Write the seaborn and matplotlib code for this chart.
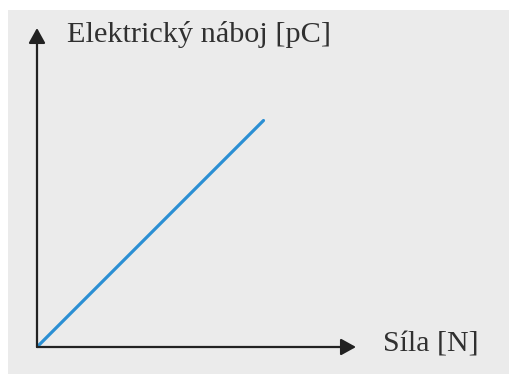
import seaborn as sns
import matplotlib.pyplot as plt
from matplotlib.patches import Rectangle

# Data: linear relation between force and charge (schematic)
sila = [0, 7.1]
naboj = [0, 7.1]

sns.set_theme(style="white")
plt.rcParams['font.family'] = ['Liberation Serif', 'DejaVu Serif']

W, H = 509, 374
fig = plt.figure(figsize=(W / 100, H / 100), dpi=100, facecolor='white')

# gray panel
fig.patches.append(Rectangle((8 / W, 0), 1 - 8 / W, (H - 10) / H,
                             transform=fig.transFigure, facecolor='#ebebeb',
                             edgecolor='none', zorder=-5))

# axes: origin at (37, 347) px, x arrow tip at 356, y arrow tip at 28
x0, y0 = 37 / W, (H - 347) / H
ax = fig.add_axes([x0, y0, (356 - 37) / W, (347 - 28) / H])
ax.set_facecolor('none')
ax.set_xlim(0, 10)
ax.set_ylim(0, 10)

sns.lineplot(x=sila, y=naboj, ax=ax, color='#2b8fd3', linewidth=2.3)

for s in ax.spines.values():
    s.set_visible(False)
ax.set_xticks([])
ax.set_yticks([])
ax.set_xlabel('')
ax.set_ylabel('')

arrow = dict(arrowstyle='-|>,head_length=0.65,head_width=0.36', color='#222222',
             lw=1.6, shrinkA=0, shrinkB=0, mutation_scale=14)
ax.annotate('', xy=(1, 0), xytext=(0, 0), xycoords='axes fraction', arrowprops=arrow)
ax.annotate('', xy=(0, 1), xytext=(0, 0), xycoords='axes fraction', arrowprops=arrow)

fig.text(67 / W, 1 - 42 / H, 'Elektrický náboj [pC]', fontsize=21.8,
         color='#303030', va='baseline', ha='left')
fig.text(383 / W, 1 - 352 / H, 'Síla [N]', fontsize=21.5,
         color='#303030', va='baseline', ha='left')

fig.savefig('out.png', dpi=100, facecolor='white')
